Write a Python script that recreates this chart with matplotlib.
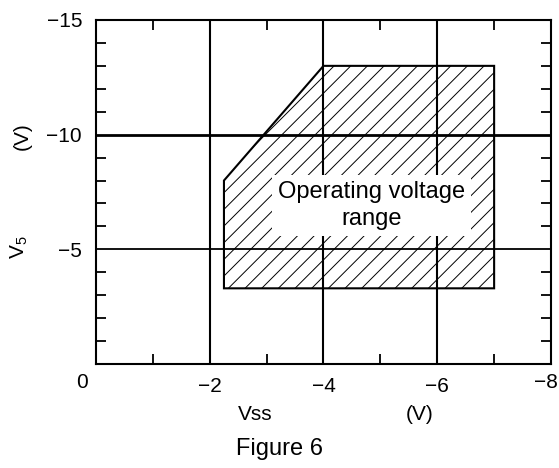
import matplotlib.pyplot as plt
from matplotlib.patches import Polygon

plt.rcParams['font.family'] = ['Liberation Sans', 'DejaVu Sans']
plt.rcParams['mathtext.default'] = 'regular'
plt.rcParams['hatch.linewidth'] = 0.7

# operating region outline (Vss, V5)
region_vss = [-2.25, -2.25, -4.0, -7.0, -7.0]
region_v5 = [-3.3, -8.0, -13.0, -13.0, -3.3]

x_major = [-2, -4, -6]
x_minor = [-1, -3, -5, -7]
y_major = [-15, -10, -5]
y_minor = [-1, -2, -3, -4, -6, -7, -8, -9, -11, -12, -13, -14]
vgrid = [-2, -4, -6]
hgrid = [-5, -10]

fig = plt.figure(figsize=(5.59, 4.68), dpi=100)
ax = fig.add_axes([0.1717, 0.2222, 0.8140, 0.7351])

ax.set_xlim(0, -8)
ax.set_ylim(0, -15)

poly = Polygon(list(zip(region_vss, region_v5)), closed=True, facecolor='white',
               edgecolor='black', hatch='//', linewidth=1.5, zorder=2)
ax.add_patch(poly)

for x in vgrid:
    ax.axvline(x, color='black', lw=1.5, zorder=3)
ax.axhline(-5, color='black', lw=1.3, zorder=3)
ax.axhline(-10, color='black', lw=2.0, zorder=3)

ax.text(-4.85, -6.9, 'Operating voltage\nrange', ha='center', va='center',
        fontsize=17, linespacing=1.3, zorder=5,
        bbox=dict(facecolor='white', edgecolor='none', boxstyle='square,pad=0.25'))

for s in ax.spines.values():
    s.set_linewidth(1.5)

ax.set_xticks(x_major)
ax.set_xticklabels(['\u22122', '\u22124', '\u22126'], fontsize=15)
ax.set_xticks(x_minor, minor=True)
ax.set_yticks(y_major)
ax.set_yticklabels(['\u221215', '\u221210', '\u22125'], fontsize=15)
ax.set_yticks(y_minor, minor=True)
ax.tick_params(which='major', length=0, pad=10)
ax.tick_params(axis='x', which='major', pad=9)
ax.tick_params(which='minor', direction='in', length=7, width=1.3,
               top=True, right=True)

fig.text(82 / 559, 1 - 383 / 468, '0', fontsize=15, ha='center', va='center')
fig.text(546 / 559, 1 - 383 / 468, '\u22128', fontsize=15, ha='center', va='center')
fig.text(22 / 559, 1 - 136 / 468, '(V)', fontsize=15, rotation=90,
         ha='center', va='center')
fig.text(19 / 559, 1 - 247 / 468, 'V$_5$', fontsize=15, rotation=90,
         ha='center', va='center')
fig.text(255 / 559, 1 - 415 / 468, 'Vss', fontsize=15, ha='center', va='center')
fig.text(420 / 559, 1 - 415 / 468, '(V)', fontsize=15, ha='center', va='center')
fig.text(280 / 559, 1 - 455 / 468, 'Figure 6', fontsize=17, ha='center',
         va='baseline')

fig.savefig('out.png', dpi=100)
